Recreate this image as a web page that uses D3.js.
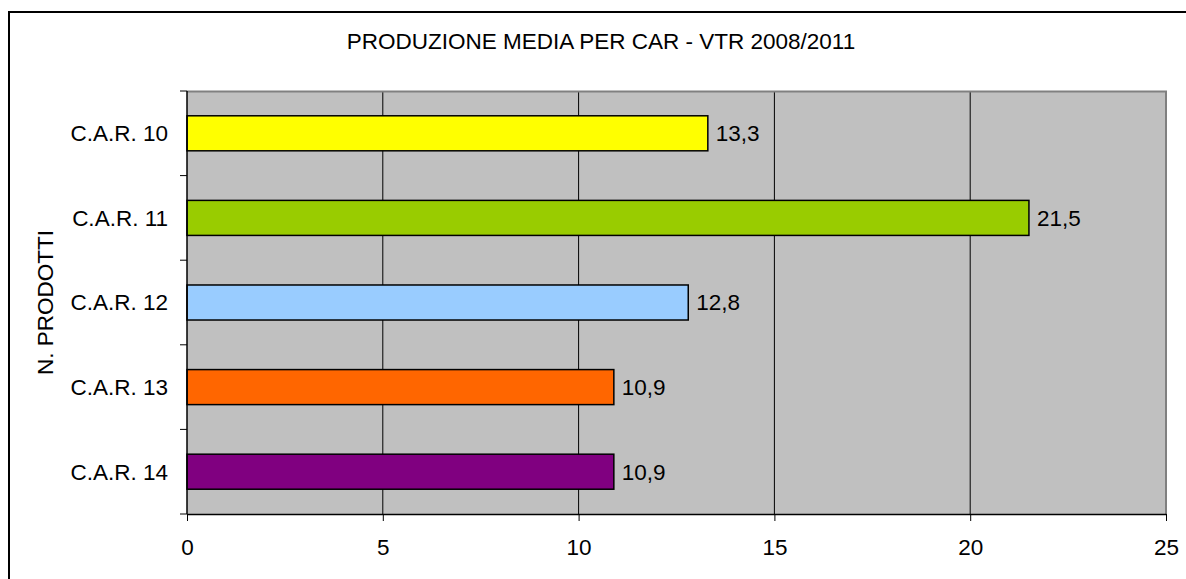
<!DOCTYPE html>
<html>
<head>
<meta charset="utf-8">
<script src="https://cdn.jsdelivr.net/npm/d3@7"></script>
<style>
  body { margin: 0; background: #fff; }
  svg text { font-family: "Liberation Sans", Arial, sans-serif; fill: #000; }
</style>
</head>
<body>
<svg id="chart" width="1186" height="579"></svg>
<script>
// data
const categories = ["C.A.R. 10", "C.A.R. 11", "C.A.R. 12", "C.A.R. 13", "C.A.R. 14"];
const values = [13.3, 21.5, 12.8, 10.9, 10.9];
const barColors = ["#FFFF00", "#99CC00", "#99CCFF", "#FF6600", "#800080"];
const xTicks = [0, 5, 10, 15, 20, 25];
const title = "PRODUZIONE MEDIA PER CAR - VTR 2008/2011";
const yTitle = "N. PRODOTTI";

const svg = d3.select("#chart");
const margin = { top: 91, right: 20, bottom: 65, left: 187 };
const plotW = 1166 - margin.left;
const plotH = 514 - margin.top;
const fs = "22.5px";

// outer chart border (right and bottom edges fall outside the picture)
svg.append("rect")
  .attr("x", 9).attr("y", 12)
  .attr("width", 1200).attr("height", 600)
  .attr("fill", "none").attr("stroke", "#000").attr("stroke-width", 2);

svg.append("text")
  .attr("x", 601).attr("y", 49)
  .attr("text-anchor", "middle")
  .style("font-size", fs)
  .text(title);

const x = d3.scaleLinear().domain([0, 25]).range([0, plotW]);
const y = d3.scaleBand().domain(categories).range([0, plotH])
  .paddingInner(0.586).paddingOuter(0.293);

const g = svg.append("g").attr("transform", `translate(${margin.left},${margin.top})`);

// plot background
g.append("rect")
  .attr("width", plotW).attr("height", plotH)
  .attr("fill", "#C0C0C0");

// vertical grid lines
g.selectAll(".grid")
  .data(xTicks.slice(1, -1))
  .enter().append("line")
  .attr("x1", d => x(d)).attr("x2", d => x(d))
  .attr("y1", 0).attr("y2", plotH)
  .attr("stroke", "#000").attr("stroke-width", 1);

// top and right border of plot area
g.append("path")
  .attr("d", `M0,0.5H${plotW}V${plotH}`)
  .attr("fill", "none").attr("stroke", "#808080").attr("stroke-width", 2);

// bars
g.selectAll(".bar")
  .data(values)
  .enter().append("rect")
  .attr("x", 0)
  .attr("y", (d, i) => y(categories[i]))
  .attr("width", d => x(d))
  .attr("height", y.bandwidth())
  .attr("fill", (d, i) => barColors[i])
  .attr("stroke", "#000").attr("stroke-width", 1.5);

// value labels
g.selectAll(".lbl")
  .data(values)
  .enter().append("text")
  .attr("x", d => x(d) + 8)
  .attr("y", (d, i) => y(categories[i]) + y.bandwidth() / 2)
  .attr("dy", "0.35em")
  .style("font-size", fs)
  .text(d => d3.format(".1f")(d).replace(".", ","));

// x axis
const xAxis = g.append("g")
  .attr("transform", `translate(0,${plotH})`)
  .call(d3.axisBottom(x).tickValues(xTicks).tickSize(7).tickPadding(18).tickSizeOuter(0));
xAxis.select(".domain").attr("stroke", "#000").attr("stroke-width", 1.5);
xAxis.selectAll("text").style("font-size", fs).attr("font-family", null);
xAxis.selectAll("line").attr("stroke", "#000");

// y axis: ticks on band boundaries, labels in band middle
const yAxis = g.append("g");
yAxis.append("line")
  .attr("x1", 0).attr("x2", 0).attr("y1", 0).attr("y2", plotH)
  .attr("stroke", "#000").attr("stroke-width", 1.5);
const bounds = categories.map(c => y(c) - y.step() * y.paddingInner() / 2);
bounds.push(plotH);
yAxis.selectAll(".tk")
  .data(bounds)
  .enter().append("line")
  .attr("x1", -7).attr("x2", 0)
  .attr("y1", d => d).attr("y2", d => d)
  .attr("stroke", "#000");
yAxis.selectAll(".yl")
  .data(categories)
  .enter().append("text")
  .attr("x", -19)
  .attr("y", d => y(d) + y.bandwidth() / 2)
  .attr("dy", "0.35em")
  .attr("text-anchor", "end")
  .style("font-size", fs)
  .text(d => d);

// y axis title
svg.append("text")
  .attr("transform", `translate(53,${margin.top + plotH / 2}) rotate(-90)`)
  .attr("text-anchor", "middle")
  .style("font-size", fs)
  .text(yTitle);
</script>
</body>
</html>
